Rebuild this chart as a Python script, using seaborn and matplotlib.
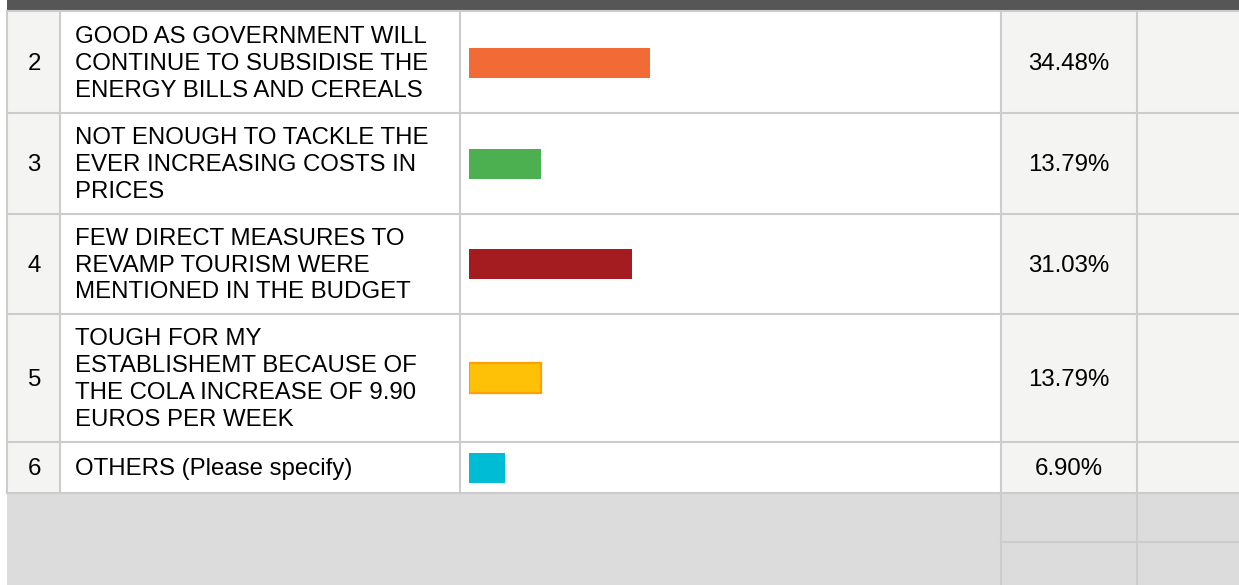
import numpy as np
import pandas as pd
import matplotlib
matplotlib.use("Agg")
import matplotlib.pyplot as plt
from matplotlib.patches import Rectangle
import seaborn as sns

# --- data ---
row_ids = ["2", "3", "4", "5", "6"]
answers = [
    "GOOD AS GOVERNMENT WILL\nCONTINUE TO SUBSIDISE THE\nENERGY BILLS AND CEREALS",
    "NOT ENOUGH TO TACKLE THE\nEVER INCREASING COSTS IN\nPRICES",
    "FEW DIRECT MEASURES TO\nREVAMP TOURISM WERE\nMENTIONED IN THE BUDGET",
    "TOUGH FOR MY\nESTABLISHEMT BECAUSE OF\nTHE COLA INCREASE OF 9.90\nEUROS PER WEEK",
    "OTHERS (Please specify)",
]
shares = [34.48, 13.79, 31.03, 13.79, 6.90]
bar_colors = ["#F26A35", "#4CAF50", "#A51C20", "#FFC107", "#00BCD4"]
bar_edges = [None, None, None, "#FFA000", None]

# --- layout (pixels) ---
W, H = 1239, 585
row_edges = [12, 113, 214, 314, 442, 493]
row_centers = [(a + b) / 2 for a, b in zip(row_edges[:-1], row_edges[1:])]
x_left, x_num, x_txt, x_pct, x_last = 7, 59.5, 460, 1000.5, 1137
bar_x0, bar_full = 469, 525  # pixel start of bars, pixels for 100 %
grid = "#CCCCCC"
light = "#F4F4F3"
fs = 17.3

plt.rcParams["font.family"] = ["Liberation Sans", "DejaVu Sans"]

fig = plt.figure(figsize=(W / 100, H / 100), dpi=100)
bg = fig.add_axes([0, 0, 1, 1])
bg.set_xlim(0, W)
bg.set_ylim(H, 0)
bg.axis("off")

# cell backgrounds
bg.add_patch(Rectangle((x_left, 0), W - x_left, 10.5, color="#555655", lw=0))
bg.add_patch(Rectangle((x_left, row_edges[0]), x_num - x_left, row_edges[-1] - row_edges[0], color=light, lw=0))
bg.add_patch(Rectangle((x_pct, row_edges[0]), W - x_pct, row_edges[-1] - row_edges[0], color=light, lw=0))
bg.add_patch(Rectangle((x_left, row_edges[-1]), W - x_left, H - row_edges[-1], color="#DCDCDC", lw=0))

# grid lines
lw = 1.5
bg.plot([x_left, W], [11.2, 11.2], color=grid, lw=lw)
for y in row_edges[1:]:
    bg.plot([x_left, W], [y, y], color=grid, lw=lw)
for x in [x_left, x_num, x_txt, x_pct, x_last]:
    bg.plot([x, x], [row_edges[0], row_edges[-1]], color=grid, lw=lw)
for x in [x_pct, x_last]:
    bg.plot([x, x], [row_edges[-1], H], color=grid, lw=lw)
bg.plot([x_pct, W], [542, 542], color=grid, lw=lw)

# texts
for rid, ans, share, yc in zip(row_ids, answers, shares, row_centers):
    yt = yc + 1.5
    bg.text((x_left + x_num) / 2 + 1, yt, rid, ha="center", va="center", fontsize=fs, color="#000000")
    bg.text(75, yt, ans, ha="left", va="center", fontsize=fs, color="#000000", linespacing=1.28)
    bg.text((x_pct + x_last) / 2, yt, f"{share:.2f}%", ha="center", va="center", fontsize=fs, color="#000000")

# bars
df = pd.DataFrame({"row": row_ids, "share": shares, "ypos": row_centers})
bar_ax = fig.add_axes([bar_x0 / W, 0, bar_full / W, 1])
bar_ax.patch.set_alpha(0)
bar_h = 30 / np.min(np.diff(row_centers))
sns.barplot(data=df, x="share", y="ypos", hue="row", orient="y", native_scale=True,
            palette=dict(zip(row_ids, bar_colors)), width=bar_h, legend=False,
            saturation=1, linewidth=0, ax=bar_ax)
for p, ec in zip(bar_ax.patches, bar_edges):
    if ec is not None:
        p.set_edgecolor(ec)
        p.set_linewidth(1.6)
bar_ax.set_xlim(0, 100)
bar_ax.set_ylim(H, 0)
bar_ax.axis("off")

fig.savefig("out.png", dpi=100)
